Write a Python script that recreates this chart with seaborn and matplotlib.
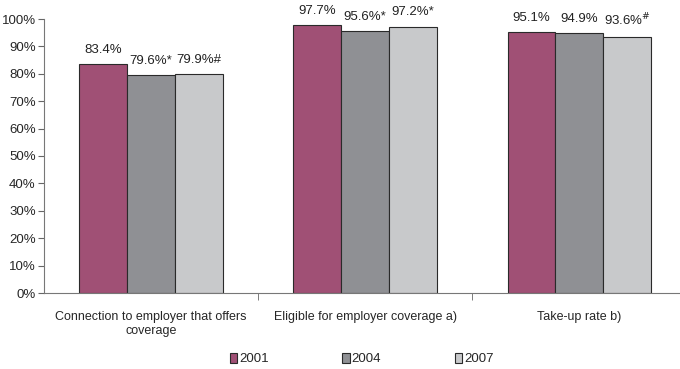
import matplotlib
matplotlib.use("Agg")
import matplotlib.pyplot as plt
import seaborn as sns
import pandas as pd
from matplotlib.patches import Patch

categories = ["Connection to employer that offers\ncoverage", "Eligible for employer coverage a)", "Take-up rate b)"]
years = ["2001", "2004", "2007"]
v2001 = [83.4, 97.7, 95.1]
v2004 = [79.6, 95.6, 94.9]
v2007 = [79.9, 97.2, 93.6]
lab2001 = ["83.4%", "97.7%", "95.1%"]
lab2004 = ["79.6%*", "95.6%*", "94.9%"]
lab2007 = ["79.9%#", "97.2%*", "93.6%$^{\\#}$"]
colors = ["#A05075", "#8F9094", "#C8C9CB"]

rows = []
for i, c in enumerate(categories):
    for y, vals in zip(years, [v2001, v2004, v2007]):
        rows.append({"cat": c, "year": y, "val": vals[i]})
df = pd.DataFrame(rows)

sns.set_style("white")
plt.rcParams["font.family"] = ["Liberation Sans Narrow", "Liberation Sans", "DejaVu Sans"]

fig = plt.figure(figsize=(6.8, 3.69), dpi=100)
ax = fig.add_axes([44/680, (369-293)/369, (680-44)/680, (293-19)/369])
sns.barplot(data=df, x="cat", y="val", hue="year", palette=colors, width=0.67,
            edgecolor="#2a2a2a", linewidth=0.8, ax=ax, legend=False, saturation=1)

for cont, labs in zip(ax.containers, [lab2001, lab2004, lab2007]):
    ax.bar_label(cont, labels=labs, padding=6, fontsize=9.5, color="#222222")

ax.set_ylim(0, 100)
ax.set_xlim(-0.5, 2.47)
ax.set_yticks(range(0, 101, 10))
ax.set_yticklabels([f"{v}%" for v in range(0, 101, 10)], fontsize=9.5)
ax.set_xticks(range(3))
ax.set_xticklabels(categories, fontsize=9)
ax.set_xticks([0.5, 1.5], minor=True)
ax.tick_params(axis="x", which="major", length=0, pad=13)
ax.tick_params(axis="x", which="minor", length=5, direction="out", color="#666666", bottom=True)
ax.tick_params(axis="y", length=4, direction="out", color="#666666", left=True, pad=2)
ax.set_xlabel("")
ax.set_ylabel("")
for s in ["top", "right"]:
    ax.spines[s].set_visible(False)
for s in ["left", "bottom"]:
    ax.spines[s].set_color("#777777")
    ax.spines[s].set_linewidth(0.8)

handles = [Patch(facecolor=c, edgecolor="#2a2a2a", linewidth=0.8) for c in colors]
fig.legend(handles, years, loc="center", bbox_to_anchor=(0.532, 10/369), ncol=3,
           frameon=False, fontsize=9.5, handlelength=0.55, handleheight=0.8,
           handletextpad=0.15, columnspacing=5.6, borderpad=0)

fig.savefig("out.png", dpi=100)
